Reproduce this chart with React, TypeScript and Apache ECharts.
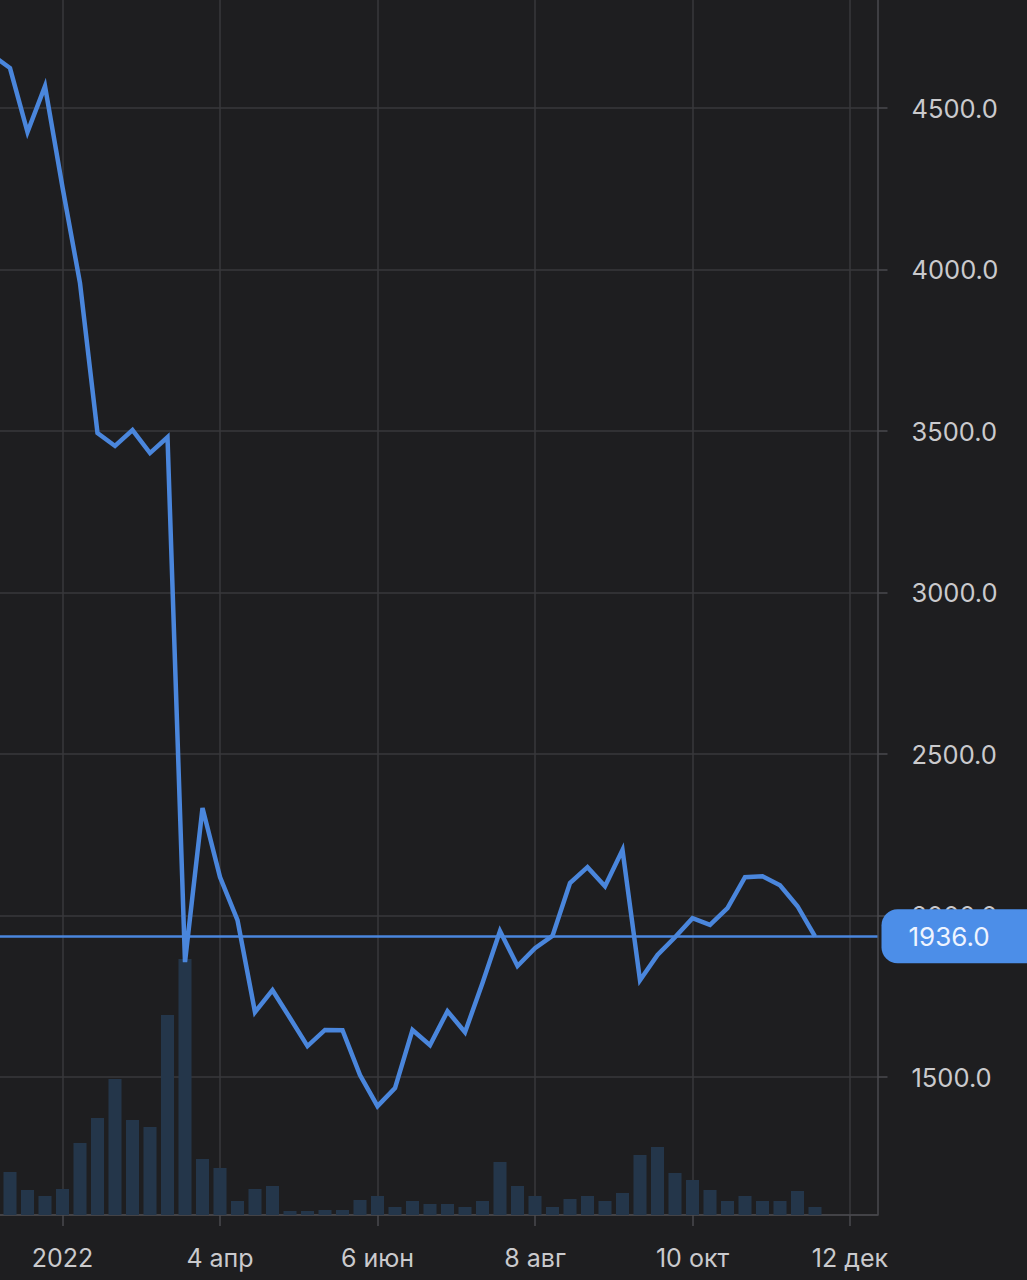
import React, { useEffect, useRef } from 'react';
import * as echarts from 'echarts';

// Axis domain (daily categories)
const AXIS_START = '2022-01-03';
const AXIS_END = '2022-12-23';

// Weekly closing prices
const weekDates = [
  '2022-01-03', '2022-01-10', '2022-01-17', '2022-01-24', '2022-01-31',
  '2022-02-07', '2022-02-14', '2022-02-21', '2022-02-28', '2022-03-07',
  '2022-03-14', '2022-03-21', '2022-03-28', '2022-04-04', '2022-04-11',
  '2022-04-18', '2022-04-25', '2022-05-02', '2022-05-09', '2022-05-16',
  '2022-05-23', '2022-05-30', '2022-06-06', '2022-06-13', '2022-06-20',
  '2022-06-27', '2022-07-04', '2022-07-11', '2022-07-18', '2022-07-25',
  '2022-08-01', '2022-08-08', '2022-08-15', '2022-08-22', '2022-08-29',
  '2022-09-05', '2022-09-12', '2022-09-19', '2022-09-26', '2022-10-03',
  '2022-10-10', '2022-10-17', '2022-10-24', '2022-10-31', '2022-11-07',
  '2022-11-14', '2022-11-21', '2022-11-28',
];
const priceValues = [
  4664, 4624, 4426, 4568, 4255,
  3958, 3494, 3454, 3503, 3432,
  3481, 1856, 2333, 2119, 1986,
  1701, 1769, 1683, 1596, 1646,
  1645, 1506, 1410, 1466, 1646,
  1599, 1704, 1639, 1791, 1952,
  1844, 1899, 1937, 2101, 2150,
  2091, 2203, 1800, 1878, 1933,
  1992, 1971, 2023, 2119, 2122,
  2094, 2029, 1936,
];

// Weekly volumes (from 2022-01-10)
const volumeDates = weekDates.slice(1);
const volumeValues = [
  43, 25, 19, 26, 72, 97, 136, 95, 88, 200,
  256, 56, 47, 14, 26, 29, 4, 4, 5, 5,
  15, 19, 8, 14, 11, 11, 8, 14, 53, 29,
  19, 8, 16, 19, 14, 22, 60, 68, 42, 35,
  25, 14, 19, 14, 14, 24, 8,
];

// X tick labels
const tickDates = ['2022-01-31', '2022-04-04', '2022-06-06', '2022-08-08', '2022-10-10', '2022-12-12'];
const tickLabels = ['2022', '4 апр', '6 июн', '8 авг', '10 окт', '12 дек'];

const lastPrice = priceValues[priceValues.length - 1];

function dayRange(start: string, end: string): string[] {
  const out: string[] = [];
  const d = new Date(start + 'T00:00:00Z');
  const e = new Date(end + 'T00:00:00Z');
  while (d.getTime() <= e.getTime()) {
    out.push(d.toISOString().slice(0, 10));
    d.setUTCDate(d.getUTCDate() + 1);
  }
  return out;
}

export default function App() {
  const ref = useRef<HTMLDivElement>(null);

  useEffect(() => {
    if (!ref.current) return;
    const chart = echarts.init(ref.current, null, { renderer: 'svg' });
    const categories = dayRange(AXIS_START, AXIS_END);
    const labelMap: Record<string, string> = {};
    tickDates.forEach((d, i) => { labelMap[d] = tickLabels[i]; });
    const isTick = (index: number) => labelMap[categories[index]] !== undefined;

    const gridColor = '#38383b';
    const axisColor = '#4a4a4e';
    const textColor = '#cacacd';
    const font = 'Inter, "Noto Sans", sans-serif';

    chart.setOption({
      animation: false,
      backgroundColor: '#1e1e20',
      grid: {
        left: -7.5, right: 149.5, top: -3, bottom: 65,
        containLabel: false,
        outerBoundsMode: 'none',
      },
      xAxis: {
        type: 'category',
        data: categories,
        boundaryGap: false,
        axisLine: { show: true, onZero: false, lineStyle: { color: axisColor, width: 1.5 } },
        axisTick: { show: true, interval: isTick, length: 11, lineStyle: { color: axisColor, width: 1.5 } },
        axisLabel: {
          interval: isTick,
          formatter: (v: string) => labelMap[v] ?? '',
          color: textColor,
          fontSize: 25,
          fontFamily: font,
          margin: 30,
        },
        splitLine: { show: true, interval: isTick, lineStyle: { color: gridColor, width: 1.5 } },
      },
      yAxis: [
        {
          type: 'value',
          position: 'right',
          min: 1073,
          max: 4844,
          splitNumber: 8,
          axisLine: { show: true, lineStyle: { color: axisColor, width: 1.5 } },
          axisTick: { show: true, length: 10, lineStyle: { color: axisColor, width: 1.5 } },
          axisLabel: {
            formatter: (v: number) => (Math.abs(v % 500) < 1e-6 ? v.toFixed(1) : ''),
            showMinLabel: false,
            showMaxLabel: false,
            margin: 34,
            color: textColor,
            fontSize: 25.5,
            fontFamily: font,
          },
          splitLine: { show: true, lineStyle: { color: gridColor, width: 1.5 } },
        },
        {
          type: 'value',
          min: 0,
          max: 1218,
          show: false,
          splitLine: { show: false },
        },
      ],
      series: [
        {
          type: 'bar',
          xAxisIndex: 0,
          yAxisIndex: 1,
          data: volumeDates.map((d, i) => [d, volumeValues[i]]),
          barWidth: 13,
          itemStyle: { color: '#24364a' },
          z: 1,
        },
        {
          type: 'line',
          xAxisIndex: 0,
          yAxisIndex: 0,
          data: weekDates.map((d, i) => [d, priceValues[i]]),
          showSymbol: false,
          lineStyle: { color: '#4a86dc', width: 4.5, join: 'miter', miterLimit: 10 },
          z: 3,
          markLine: {
            silent: true,
            symbol: ['none', 'none'],
            data: [{ yAxis: lastPrice }],
            lineStyle: { color: '#4a86dc', width: 2.5, type: 'solid' },
            label: {
              show: true,
              position: 'end',
              formatter: lastPrice.toFixed(1),
              backgroundColor: '#4c8ee8',
              color: '#eef4ff',
              fontSize: 26,
              fontFamily: font,
              padding: [14, 50, 14, 27],
              borderRadius: [16, 0, 0, 16],
              distance: 4,
            },
          },
        },
      ],
    });

    return () => { chart.dispose(); };
  }, []);

  return (
    <div
      ref={ref}
      style={{ position: 'absolute', left: 0, top: 0, width: 1027, height: 1280, background: '#1e1e20' }}
    />
  );
}
